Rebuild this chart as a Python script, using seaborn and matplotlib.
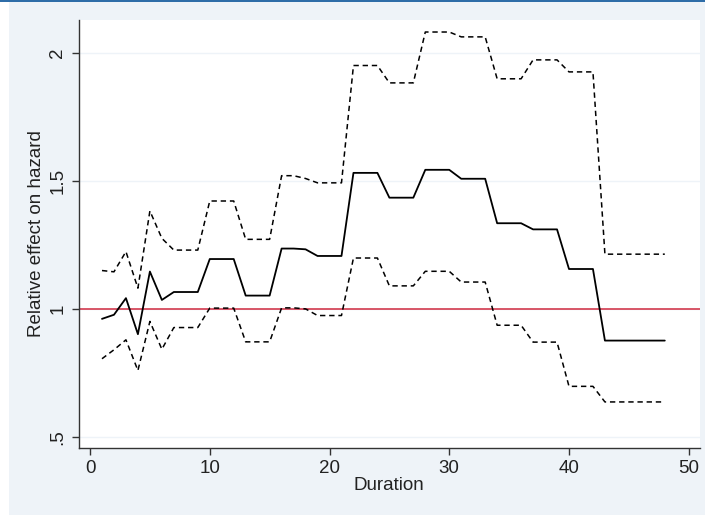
import numpy as np
import pandas as pd
import matplotlib
matplotlib.use("Agg")
import matplotlib.pyplot as plt
import seaborn as sns
from matplotlib.patches import Rectangle

duration = list(range(1, 49))
effect = [0.961, 0.977, 1.042, 0.901, 1.146, 1.035,
          1.066, 1.066, 1.066, 1.195, 1.195, 1.195,
          1.052, 1.052, 1.052, 1.236, 1.236, 1.233,
          1.207, 1.207, 1.207, 1.532, 1.532, 1.532,
          1.435, 1.435, 1.435, 1.544, 1.544, 1.544,
          1.509, 1.509, 1.509, 1.335, 1.335, 1.335,
          1.311, 1.311, 1.311, 1.156, 1.156, 1.156,
          0.876, 0.876, 0.876, 0.876, 0.876, 0.876]
upper = [1.150, 1.145, 1.224, 1.081, 1.383, 1.276,
         1.230, 1.230, 1.230, 1.422, 1.422, 1.422,
         1.272, 1.272, 1.272, 1.521, 1.521, 1.510,
         1.493, 1.493, 1.493, 1.952, 1.952, 1.952,
         1.884, 1.884, 1.884, 2.083, 2.083, 2.083,
         2.064, 2.064, 2.064, 1.900, 1.900, 1.900,
         1.974, 1.974, 1.974, 1.927, 1.927, 1.927,
         1.214, 1.214, 1.214, 1.214, 1.214, 1.214]
lower = [0.805, 0.840, 0.879, 0.759, 0.951, 0.842,
         0.927, 0.927, 0.927, 1.003, 1.003, 1.003,
         0.871, 0.871, 0.871, 1.004, 1.004, 1.000,
         0.974, 0.974, 0.974, 1.199, 1.199, 1.199,
         1.090, 1.090, 1.090, 1.147, 1.147, 1.147,
         1.105, 1.105, 1.105, 0.936, 0.936, 0.936,
         0.870, 0.870, 0.870, 0.697, 0.697, 0.697,
         0.636, 0.636, 0.636, 0.636, 0.636, 0.636]
x_ticks = [0, 10, 20, 30, 40, 50]
y_ticks = [0.5, 1.0, 1.5, 2.0]
y_tick_labels = [".5", "1", "1.5", "2"]
reference_level = 1.0

sns.set_theme(style="white")
plt.rcParams['font.family'] = ['Liberation Sans', 'DejaVu Sans']

W, H = 705, 516
fig = plt.figure(figsize=(W / 100, H / 100), dpi=100)
fig.patch.set_facecolor("white")
# outer Stata-like background and top blue strip
fig.patches.append(Rectangle((9 / W, 1 / H), 696 / W, 513 / H, transform=fig.transFigure,
                             facecolor="#EEF3F8", edgecolor="none", zorder=-10))
fig.patches.append(Rectangle((0, 514 / H), 1, 2 / H, transform=fig.transFigure,
                             facecolor="#2E6DA8", edgecolor="none", zorder=-10))

ax = fig.add_axes([78.7 / W, (H - 447.7) / H, (700 - 78.7) / W, (447.7 - 20) / H])
ax.set_facecolor("white")

df = pd.DataFrame({"Duration": duration, "effect": effect, "upper": upper, "lower": lower})

for yv in y_ticks:
    ax.axhline(yv, color="#EEF3F8", lw=1.0, zorder=0)

sns.lineplot(data=df, x="Duration", y="upper", ax=ax, color="black", lw=1.1,
             linestyle=(0, (3.5, 2.5)), zorder=3)
sns.lineplot(data=df, x="Duration", y="lower", ax=ax, color="black", lw=1.1,
             linestyle=(0, (3.5, 2.5)), zorder=3)
sns.lineplot(data=df, x="Duration", y="effect", ax=ax, color="black", lw=1.3, zorder=3)
ax.axhline(reference_level, color="#D33A4E", lw=1.2, zorder=2)

ax.set_xlim(-0.945, 50.94)
ax.set_ylim(0.457, 2.130)
ax.set_xticks(x_ticks)
ax.set_xticklabels([str(t) for t in x_ticks])
ax.set_yticks(y_ticks)
ax.set_yticklabels(y_tick_labels, rotation=90, va="center")

for s in ["top", "right"]:
    ax.spines[s].set_visible(False)
for s in ["left", "bottom"]:
    ax.spines[s].set_visible(True)
    ax.spines[s].set_color("#333333")
    ax.spines[s].set_linewidth(1.0)

ax.tick_params(axis="both", which="major", direction="out", length=5, width=1.0,
               color="#333333", labelsize=13.5, labelcolor="#222222", pad=4,
               bottom=True, left=True)
ax.set_xlabel("Duration", fontsize=13.5, color="#222222", labelpad=0)
ax.set_ylabel("Relative effect on hazard", fontsize=13.5, color="#222222", labelpad=3)
ax.grid(False)

fig.savefig("out.png", dpi=100, facecolor=fig.get_facecolor())
